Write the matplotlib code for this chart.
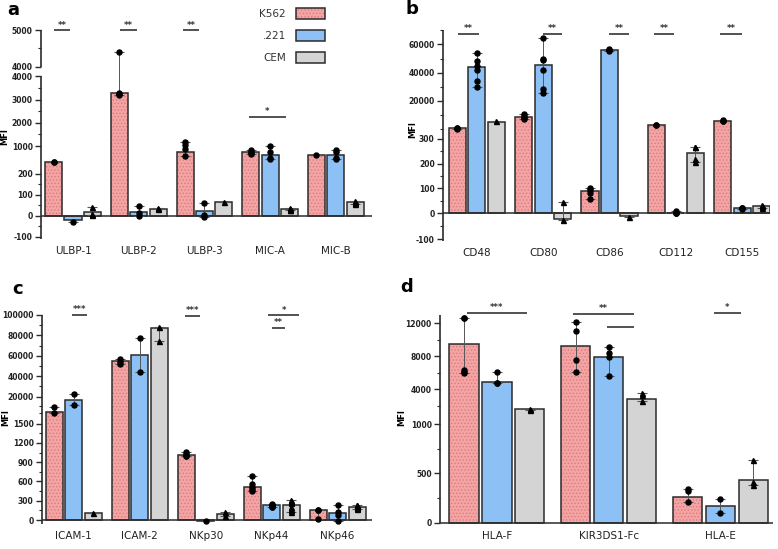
import numpy as np
import matplotlib
matplotlib.use('Agg')
import matplotlib.pyplot as plt
from matplotlib.patches import Patch

plt.rcParams['font.family'] = 'DejaVu Sans'
plt.rcParams['hatch.linewidth'] = 0.6

cell_lines = ['K562', '.221', 'CEM']

# panel a
a_groups = ['ULBP-1', 'ULBP-2', 'ULBP-3', 'MIC-A', 'MIC-B']
a_k562 = [474, 3275, 810, 790, 700]
a_221 = [-21, 17, 21, 710, 690]
a_cem = [16, 32, 63, 30, 63]
a_k562_pts = [[480, 470], [3280, 3250, 3200, 4410], [1186, 1050, 900, 650], [880, 800, 750, 720], [705]]
a_221_pts = [[-30], [45, 15, 0], [58, 5, -5], [1010, 800, 600, 560], [850, 800, 600, 560]]
a_cem_pts = [[40, 10, 5], [35, 30], [63], [35, 25, 30, 28], [70, 65, 60, 55]]
a_sig = [(0, -0.29, -0.04, 4990, '**'), (1, -0.29, -0.03, 4990, '**'),
         (2, -0.33, -0.08, 4990, '**'), (3, -0.32, 0.24, 2250, '*')]

# panel b
b_groups = ['CD48', 'CD80', 'CD86', 'CD112', 'CD155']
b_k562 = [830, 8550, 90, 2940, 6170]
b_221 = [43800, 45400, 56000, 2, 21]
b_cem = [5250, -20, -11, 241, 28]
b_k562_pts = [[1250, 900, 600], [10700, 9500, 8000, 7500], [100, 95, 80, 57], [3360, 3000], [6400, 6200, 6000]]
b_221_pts = [[54000, 48000, 45000, 42000, 34000, 30000], [64700, 50000, 49000, 41900, 28200, 25400],
             [57000, 56000, 55000], [0, 1, 2, 10], [20, 21, 22, 19]]
b_cem_pts = [[5700], [46, -25], [-13], [266, 220, 205, 265], [22, 28, 33, 30]]
b_sig = [(0, -0.29, 0.03, 67600, '**'), (1, 0.0, 0.29, 67600, '**'), (2, 0.0, 0.3, 67600, '**'),
         (3, -0.33, -0.03, 67600, '**'), (4, -0.33, 0.0, 67600, '**')]

# panel c
c_groups = ['ICAM-1', 'ICAM-2', 'NKp30', 'NKp44', 'NKp46']
c_k562 = [3430, 55000, 1014, 512, 150]
c_221 = [16400, 61200, -20, 233, 103]
c_cem = [110, 87000, 88, 238, 202]
c_k562_pts = [[9000, 2500], [57000, 54000, 52000], [1060, 1030, 1000, 990], [683, 560, 520, 480, 450], [160, 150, 10]]
c_221_pts = [[22600, 10500], [77800, 44500], [-20], [250, 240, 230, 220, 210, 200], [240, 130, 80, -10]]
c_cem_pts = [[110], [88000, 74500], [120, 60], [310, 290, 280, 260, 200, 170, 150, 130],
             [240, 230, 210, 200, 180, 170]]
c_sig = [(0, -0.03, 0.2, 100300, '***'), (2, -0.32, -0.08, 99400, '***'),
         (3, -0.05, 0.42, 99700, '*'), (3, 0.0, 0.2, 87300, '**')]

# panel d
d_groups = ['HLA-F', 'KIR3DS1-Fc', 'HLA-E']
d_k562 = [9500, 9250, 263]
d_221 = [4850, 7920, 168]
d_cem = [1590, 2800, 429]
d_k562_pts = [[12700, 12600, 6340, 6150, 6000], [12200, 11070, 7590, 6100], [341, 320, 206]]
d_221_pts = [[6060, 4730, 4800], [9160, 8440, 7880, 5580], [243, 95]]
d_cem_pts = [[1650, 1550], [3550, 3300, 2600], [635, 412, 382]]
d_sig = [(0, -0.27, 0.27, 13250, '***'), (1, -0.32, 0.23, 13130, '**'),
         (1, -0.02, 0.23, 11550, ''), (2, -0.06, 0.18, 13250, '*')]

PINK = '#f4a4a4'
PINK_DOT = '#d97c7c'
BLUE = '#8dc0f5'
GREY = '#d4d4d4'
EDGE = '#2b2b2b'
OFF = 0.295
BW = 0.26

W, H = 778, 549
fig = plt.figure(figsize=(W / 100, H / 100), dpi=100)


def add_axes(l, r, t, b):
    return fig.add_axes([l / W, 1 - b / H, (r - l) / W, (b - t) / H])


def draw_panel(ax, groups, heights, pts, sig, knots, ypx, xlim, yticks, ylabels, yminor, spine_segs, label_xy):
    vals = np.asarray(knots[0], float)
    px = -np.asarray(knots[1], float)
    fwd = lambda y: np.interp(y, vals, px)
    inv = lambda q: np.interp(q, px, vals)
    ax.set_yscale('function', functions=(fwd, inv))

    x = np.arange(len(groups))
    styles = [(-OFF, PINK, 'o'), (0, BLUE, 'o'), (OFF, GREY, '^')]
    for j, (off, col, mk) in enumerate(styles):
        h = heights[j]
        xs = x + off
        if j == 0:
            ax.bar(xs, h, BW, color=col, hatch='.....', edgecolor=PINK_DOT, lw=0, zorder=2)
            ax.bar(xs, h, BW, facecolor='none', edgecolor=EDGE, lw=1.1, zorder=3)
        else:
            ax.bar(xs, h, BW, color=col, edgecolor=EDGE, lw=1.1, zorder=3)
        for i in range(len(groups)):
            p = pts[j][i]
            lo = max(h[i] - min(p), 0)
            hi = max(max(p) - h[i], 0)
            ax.errorbar(xs[i], h[i], yerr=[[lo], [hi]], fmt='none', ecolor='#555555',
                        elinewidth=0.7, capsize=3.5, capthick=0.8, zorder=4)
            ax.plot([xs[i]] * len(p), p, mk, ms=3.6, color='k', ls='none', zorder=5)

    ax.axhline(0, color=EDGE, lw=1.1, zorder=3.5)

    for g, a0, a1, yv, txt in sig:
        ax.plot([g + a0, g + a1], [yv, yv], color='#222222', lw=1.1, solid_capstyle='butt', clip_on=False)
        if txt:
            ax.annotate(txt, (g + (a0 + a1) / 2, yv), xytext=(0, 0.5), textcoords='offset points',
                        ha='center', va='bottom', fontsize=6, fontweight='bold', color='#333333',
                        annotation_clip=False)

    for s in ['top', 'right', 'bottom', 'left']:
        ax.spines[s].set_visible(False)
    for lo, hi in spine_segs:
        ax.plot([0, 0], [lo, hi], transform=ax.get_yaxis_transform(), color=EDGE, lw=1.2,
                clip_on=False, solid_capstyle='butt')

    ax.set_yticks(yticks, ylabels)
    ax.set_yticks(yminor, minor=True)
    ax.tick_params(axis='y', which='major', length=4, width=1, labelsize=5.5, pad=2, color=EDGE, labelcolor='#222222')
    ax.tick_params(axis='y', which='minor', length=2, width=0.8, color=EDGE)
    for t in ax.get_yticklabels():
        t.set_fontweight('bold')
    ax.set_xticks(x, groups)
    ax.tick_params(axis='x', length=0, labelsize=7.5, pad=4, labelcolor='#222222')
    ax.set_xlim(*xlim)
    ax.set_ylim(inv(-ypx[0]), inv(-ypx[1]))
    ax.set_ylabel('MFI', fontsize=6, fontweight='bold')
    ax.yaxis.set_label_coords(*label_xy)


ax_a = add_axes(41, 372, 25, 240)
draw_panel(ax_a, a_groups, [a_k562, a_221, a_cem], [a_k562_pts, a_221_pts, a_cem_pts], a_sig,
           ([-500, -100, 0, 220, 1000, 2000, 3000, 4000, 4001, 5000, 7000],
            [320.7, 236.7, 215.7, 169.3, 146, 122.7, 99.7, 76.3, 66.7, 30, -43]),
           (240, 25), (-0.487, 4.55),
           [-100, 0, 100, 200, 1000, 2000, 3000, 4000, 4001, 5000],
           ['-100', '0', '100', '200', '1000', '2000', '3000', '4000', '4000', '5000'],
           [-50, 50, 150, 1500, 2500, 3500, 4500],
           [(-110, 4000), (4001, 5000)], (-0.095, 0.48))

ax_b = add_axes(443, 770, 25, 242)
draw_panel(ax_b, b_groups, [b_k562, b_221, b_cem], [b_k562_pts, b_221_pts, b_cem_pts], b_sig,
           ([-500, -100, 0, 300, 340, 20000, 40000, 60000, 100000],
            [339.3, 239.3, 213.3, 138.7, 129, 101, 72.7, 44.3, -12.4]),
           (242, 25), (-0.51, 4.42),
           [-100, 0, 100, 200, 300, 20000, 40000, 60000],
           ['-100', '0', '100', '200', '300', '20000', '40000', '60000'],
           [-50, 50, 150, 250, 340, 10000, 30000, 50000, 70000],
           [(-105, 70000)], (-0.08, 0.516))

ax_c = add_axes(42, 372, 305, 525)
draw_panel(ax_c, c_groups, [c_k562, c_221, c_cem], [c_k562_pts, c_221_pts, c_cem_pts], c_sig,
           ([-1000, 0, 1500, 1660, 20000, 100000, 200000],
            [584.4, 520, 423.7, 413.3, 396.7, 315, 213]),
           (525, 305), (-0.48, 4.52),
           [0, 300, 600, 900, 1200, 1500, 20000, 40000, 60000, 80000, 100000],
           ['0', '300', '600', '900', '1200', '1500', '20000', '40000', '60000', '80000', '100000'],
           [150, 450, 750, 1050, 1350, 1660, 10000, 30000, 50000, 70000, 90000],
           [(-60, 100000)], (-0.095, 0.49))

ax_d = add_axes(440, 773, 305, 525)
draw_panel(ax_d, d_groups, [d_k562, d_221, d_cem], [d_k562_pts, d_221_pts, d_cem_pts], d_sig,
           ([-500, 0, 1000, 1108, 4000, 12000, 20000],
            [572, 522.7, 424, 413.3, 389.3, 323.3, 257.3]),
           (525, 305), (-0.51, 2.47),
           [0, 500, 1000, 4000, 8000, 12000],
           ['0', '500', '1000', '4000', '8000', '12000'],
           [250, 750, 2000, 6000, 10000],
           [(0, 13000)], (-0.1, 0.49))

for letter, lx, ly in [('a', 13, 10), ('b', 412, 9), ('c', 18, 289), ('d', 407, 287)]:
    fig.text(lx / W, 1 - ly / H, letter, fontsize=13, fontweight='bold', ha='center', va='center')

handles = [(Patch(facecolor=PINK, hatch='.....', edgecolor=PINK_DOT, lw=0),
            Patch(facecolor='none', edgecolor=EDGE, lw=1.1)),
           Patch(facecolor=BLUE, edgecolor=EDGE, lw=1.1),
           Patch(facecolor=GREY, edgecolor=EDGE, lw=1.1)]
fig.legend(handles=handles, labels=cell_lines, loc='upper left', bbox_to_anchor=(259 / W, 1 - 8 / H),
           frameon=False, markerfirst=False, fontsize=7.5, handlelength=2.8, handleheight=1.3,
           labelspacing=1.0, handletextpad=1.0, borderpad=0, borderaxespad=0, labelcolor='#333333')

fig.savefig('out.png', dpi=100)
